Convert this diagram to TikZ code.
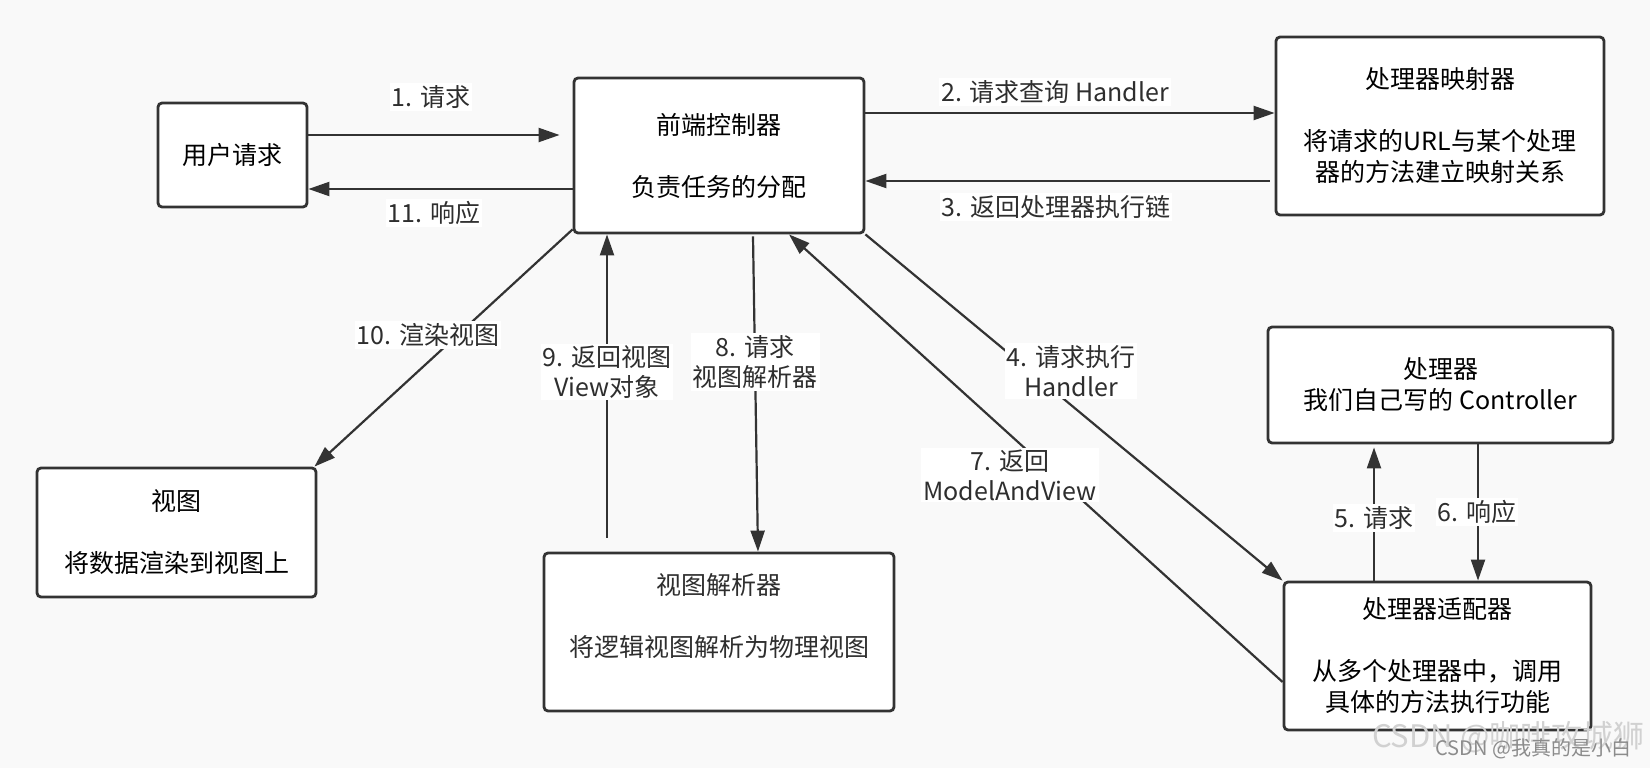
\documentclass[tikz,border=0pt]{standalone}
\usepackage{fontspec}
\setmainfont{Noto Sans CJK SC}
\usetikzlibrary{arrows.meta}
\definecolor{ink}{HTML}{333333}
\definecolor{bg}{HTML}{F9F9F9}
\tikzset{
  box/.style={draw=ink, line width=2.8pt, rounded corners=4pt, fill=white, align=center, inner sep=0pt, font=\fontsize{25}{31}\selectfont},
  conn/.style={draw=ink, line width=2.2pt, -{Triangle[length=21pt,width=14pt]}},
  lab/.style={fill=white, inner sep=2pt, align=center, font=\fontsize{25}{30}\selectfont, text=ink!90!black},
  txt/.style={align=center, font=\fontsize{25}{31}\selectfont, text=ink!90!black},
}
\begin{document}
\begin{tikzpicture}[x=1pt,y=-1pt]
\fill[bg] (0,0) rectangle (1650,768);
\useasboundingbox (0,0) rectangle (1650,768);

% boxes
\node[box, minimum width=149pt, minimum height=104pt] (user) at (232.5,155) {用户请求};
\node[box, minimum width=290pt, minimum height=155pt] (fc) at (719,155.5) {前端控制器\\[31pt]负责任务的分配};
\node[box, minimum width=328pt, minimum height=178pt] (hm) at (1440,126) {处理器映射器\\[31pt]将请求的URL与某个处理\\器的方法建立映射关系};
\node[box, minimum width=345pt, minimum height=116pt] (ctrl) at (1440.5,385) {处理器\\我们自己写的 Controller};
\node[box, minimum width=307pt, minimum height=148pt] (ha) at (1437.5,656) {处理器适配器\\[31pt]从多个处理器中，调用\\具体的方法执行功能};
\node[box, minimum width=279pt, minimum height=129pt] (view) at (176.5,532.5) {视图\\[31pt]将数据渲染到视图上};
\node[box, minimum width=350pt, minimum height=158pt] (vr) at (719,632) {};
\node[txt] (vrtext) at (719,616.5) {视图解析器\\[31pt]将逻辑视图解析为物理视图};

% connectors
\draw[conn] ([yshift=20pt]user.east) -- ([yshift=20.5pt,xshift=-13pt]fc.west);
\draw[conn] ([yshift=-33.5pt]fc.west) -- ([yshift=-34pt]user.east);
\draw[conn] ([yshift=42.5pt]fc.east) -- ([yshift=13pt]hm.west);
\draw[conn] ([yshift=-55pt,xshift=-5pt]hm.west) -- ([yshift=-25.5pt]fc.east);
\draw[conn] (fc.south east) -- (ha.north west);
\draw[conn] ([xshift=-63.5pt]ha.north) -- ([xshift=-66.5pt,yshift=-3pt]ctrl.south);
\draw[conn] ([xshift=37.5pt]ctrl.south) -- ([xshift=40.5pt]ha.north);
\draw[conn] ([yshift=-26pt]ha.west) -- ([xshift=70pt]fc.south);
\draw[conn] ([xshift=34pt,yshift=-2pt]fc.south) -- ([xshift=39pt]vr.north);
\draw[conn] ([xshift=-112pt,yshift=14pt]vr.north) -- ([xshift=-112pt]fc.south);
\draw[conn] ([yshift=5pt]fc.south west) -- ([xshift=-3pt]view.north east);

% labels
\node[lab] (l1) at (431,97) {1. 请求};
\node[lab] (l11) at (434,213) {11. 响应};
\node[lab] (l2) at (1055,92) {2. 请求查询 Handler};
\node[lab] (l3) at (1056,207) {3. 返回处理器执行链};
\node[lab] (l4) at (1071,371) {4. 请求执行\\Handler};
\node[lab] (l5) at (1374,518) {5. 请求};
\node[lab] (l6) at (1477,512) {6. 响应};
\node[lab] (l7) at (1010,475) {7. 返回\\ModelAndView};
\node[lab] (l8) at (755,362) {8. 请求\\视图解析器};
\node[lab] (l9) at (607,372) {9. 返回视图\\View对象};
\node[lab] (l10) at (428,335) {10. 渲染视图};

% watermarks
\node[font=\fontsize{31}{31}\selectfont, text=black!18, anchor=east] (wm1) at (1648,737) {CSDN @咖啡攻城狮};
\node[font=\fontsize{20}{20}\selectfont, text=black!45, anchor=east] (wm2) at (1635,749) {CSDN @我真的是小白};
\end{tikzpicture}
\end{document}
